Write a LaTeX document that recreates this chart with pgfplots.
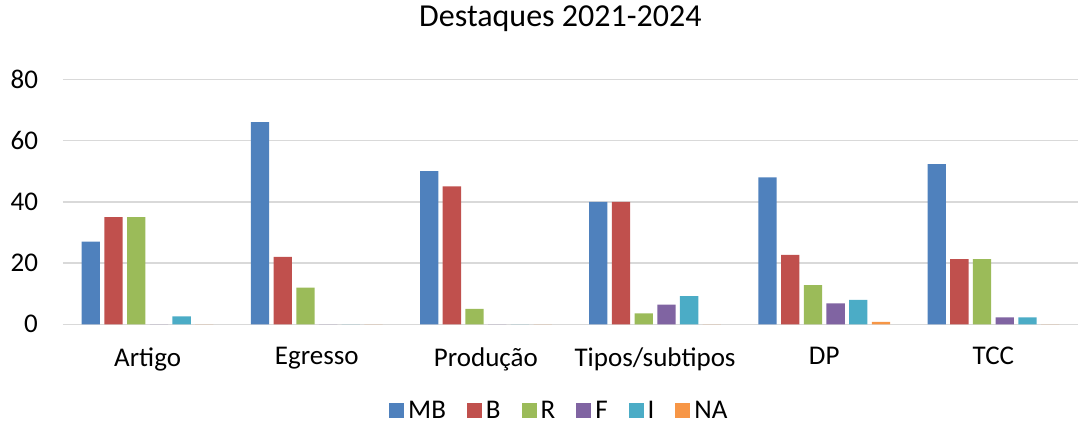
\documentclass[border=0pt]{standalone}
\usepackage{pgfplots}
\pgfplotsset{compat=1.18}
\usepackage{fontspec}
\setmainfont{Carlito}
\definecolor{cMB}{HTML}{4F81BD}
\definecolor{cB}{HTML}{C0504D}
\definecolor{cR}{HTML}{9BBB59}
\definecolor{cF}{HTML}{8064A2}
\definecolor{cI}{HTML}{4BACC6}
\definecolor{cNA}{HTML}{F79646}
\definecolor{gridc}{HTML}{D9D9D9}
\begin{document}
\begin{tikzpicture}
\begin{axis}[
    at={(0,0)}, anchor=south west,
    scale only axis,
    width=507.5pt, height=122.5pt,
    ybar=2.2pt, bar width=9.15pt,
    xmin=-0.5, xmax=5.5,
    ymin=0, ymax=80,
    ytick={0,20,40,60,80},
    xtick=data,
    xticklabels={Artigo,Egresso,Produção,Tipos/subtipos,DP,TCC},
    axis line style={draw=none},
    major tick length=0pt,
    ymajorgrids, grid style={gridc, line width=0.8pt},
    tick label style={font=\fontsize{13.5}{16}\selectfont},
    /pgf/number format/assume math mode=true,
    xticklabel style={yshift=-8pt},
    yticklabel style={xshift=-9pt},
    title={Destaques 2021-2024},
    title style={at={(0.49,1)}, anchor=base, yshift=20.5pt, font=\fontsize{16}{19}\selectfont},
    legend columns=6,
    legend style={at={(0.49,0)}, anchor=north, yshift=-35pt, draw=none,
        font=\fontsize{13.5}{16}\selectfont, inner sep=1pt,
        /tikz/every even column/.append style={column sep=8.5pt}},
    legend image code/.code={\fill[#1] (0pt,-3.7pt) rectangle (7.5pt,3.8pt);},
    every axis plot/.append style={draw=none},
]
\addplot[fill=cMB] coordinates {(0,27) (1,66) (2,50) (3,40) (4,48) (5,52.3)};
\addplot[fill=cB] coordinates {(0,35) (1,22) (2,45) (3,40) (4,22.7) (5,21.3)};
\addplot[fill=cR] coordinates {(0,35) (1,12) (2,5) (3,3.6) (4,12.8) (5,21.3)};
\addplot[fill=cF] coordinates {(0,0) (1,0) (2,0) (3,6.4) (4,6.8) (5,2.3)};
\addplot[fill=cI] coordinates {(0,2.6) (1,0) (2,0) (3,9.2) (4,8) (5,2.3)};
\addplot[fill=cNA] coordinates {(0,0) (1,0) (2,0) (3,0) (4,0.8) (5,0)};
\legend{MB,B,R,F,I,NA}
\end{axis}
\pgfresetboundingbox
\useasboundingbox (-31.5pt,-49.35pt) rectangle (511pt,162.15pt);
\end{tikzpicture}
\end{document}
